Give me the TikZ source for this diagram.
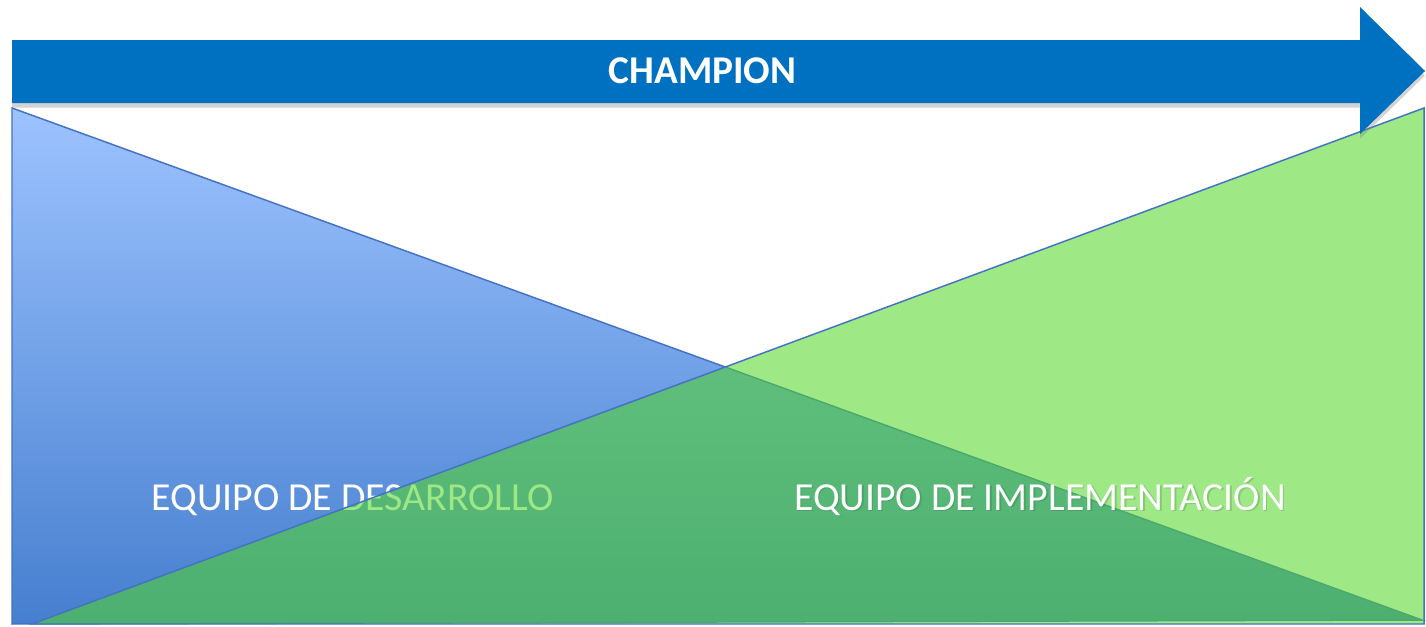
\documentclass[tikz,border=0pt]{standalone}
\usepackage{fontspec}
\setmainfont{Carlito}
\usetikzlibrary{shadows}

\begin{document}
\begin{tikzpicture}[x=0.75pt,y=0.75pt,yscale=-1,xscale=1,
    triline/.style={color={rgb, 255:red, 68; green, 114; blue, 196 }, draw opacity=1, line width=1.1},
    label/.style={text={rgb, 255:red, 255; green, 255; blue, 255 }, inner sep=0pt, anchor=base}]
\useasboundingbox (0,0) rectangle (1426,626);

%Shape: Triangle [id:desarrollo]
\draw [triline][top color={rgb, 255:red, 157; green, 195; blue, 255 }, bottom color={rgb, 255:red, 70; green, 127; blue, 207 }]  (12,108) -- (1422,620) -- (12,624) -- cycle ;
%Text Node
\node [label, font=\fontsize{29.8}{34}\selectfont] (desarrollo) at (352.5,510) {EQUIPO DE DESARROLLO};

%Shape: Triangle [id:implementacion]
\draw [triline][fill={rgb, 255:red, 82; green, 214; blue, 39 }, fill opacity=0.56]  (1424,108) -- (1424,624) -- (32,624) -- cycle ;
%Text Node
\node [label, font=\fontsize{29.8}{34}\selectfont, text={rgb, 255:red, 40; green, 90; blue, 50 }, text opacity=0.22] at (1041.5,511.5) {EQUIPO DE IMPLEMENTACIÓN};
\node [label, font=\fontsize{29.8}{34}\selectfont] (implementacion) at (1040,510) {EQUIPO DE IMPLEMENTACIÓN};

%Shape: Right Arrow [id:champion]
\draw [draw opacity=0][fill={rgb, 255:red, 0; green, 112; blue, 192 }, fill opacity=1, drop shadow={opacity=0.35, shadow xshift=0pt, shadow yshift=-3.5pt}]  (12,40) -- (1360,40) -- (1360,7) -- (1425,71) -- (1360,134) -- (1360,103) -- (12,103) -- cycle ;
%Text Node
\node [label, font=\bfseries\fontsize{29.5}{34}\selectfont] (champion) at (702.5,83.5) {CHAMPION};

\end{tikzpicture}
\end{document}
